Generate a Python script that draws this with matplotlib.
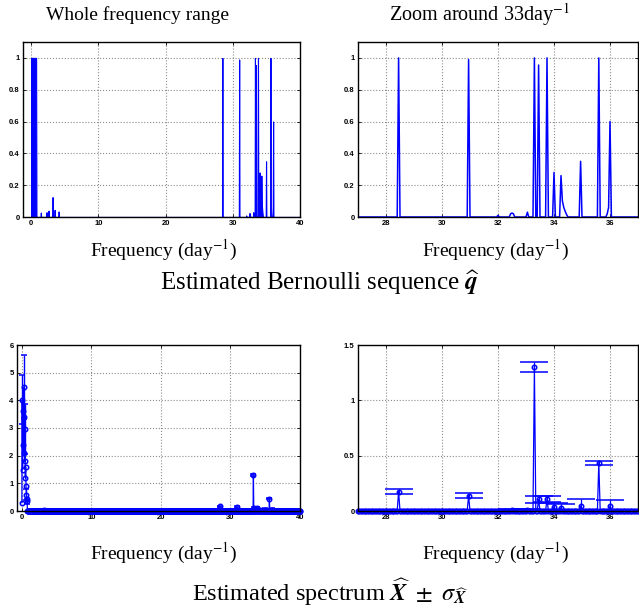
import matplotlib.pyplot as plt
import numpy as np

plt.rcParams['font.family'] = ['Liberation Sans', 'DejaVu Sans']
plt.rcParams['mathtext.fontset'] = 'stix'

# frequency grid (day^-1)
step = 0.05
freq = np.round(np.arange(0, 40 + step / 2, step), 2)

# Bernoulli sequence q-hat: non-zero entries only
q_freq = [0.0, 0.05, 0.1, 0.15, 0.2, 0.25, 0.3, 0.35, 0.4, 0.45, 0.5, 0.55, 0.6, 0.65, 0.7, 0.75,
          1.45, 2.3, 2.6, 3.2, 3.5, 4.1,
          28.45, 30.95, 32.0, 32.45, 32.5, 32.55, 33.05, 33.3, 33.45, 33.75,
          34.0, 34.25, 34.3, 34.35, 34.4, 34.45, 34.95, 35.6, 35.9, 35.95, 36.0]
q_val = [1, 1, 1, 1, 1, 1, 1, 1, 1, 1, 1, 1, 1, 1, 1, 1,
         0.028, 0.03, 0.04, 0.125, 0.045, 0.035,
         1.0, 0.99, 0.01, 0.02, 0.025, 0.02, 0.03, 1.0, 0.955, 1.0,
         0.28, 0.26, 0.1, 0.06, 0.035, 0.015, 0.35, 1.0, 0.02, 0.06, 0.6]

# Estimated spectrum X-hat (non-zero entries)
x_freq = [0.0, 0.05, 0.1, 0.15, 0.2, 0.25, 0.3, 0.35, 0.4, 0.45, 0.5, 0.55, 0.6, 0.65, 0.7, 0.75,
          1.45, 2.3, 2.6, 3.2, 3.5, 4.1,
          28.45, 30.95, 32.0, 32.5, 33.05, 33.3, 33.45, 33.75, 34.0, 34.25, 34.95, 35.6, 36.0]
x_val = [0.3, 4.02, 1.5, 3.6, 2.4, 4.47, 2.1, 3.4, 1.8, 2.96, 1.2, 1.6, 0.9, 0.59, 0.45, 0.35,
         0.01, 0.01, 0.015, 0.03, 0.015, 0.01,
         0.176, 0.14, 0.003, 0.005, 0.005, 1.30, 0.105, 0.11, 0.04, 0.03, 0.045, 0.436, 0.045]

# standard deviation, drawn as error bars
e_freq = [0.05, 0.25, 0.45, 0.65, 0.75,
          28.45, 30.95, 32.0, 32.5, 33.05, 33.3, 33.45, 33.75, 34.0, 34.25, 34.95, 35.6, 36.0]
e_val = [4.02, 4.47, 2.96, 0.59, 0.35,
         0.176, 0.14, 0.003, 0.005, 0.005, 1.30, 0.105, 0.11, 0.04, 0.03, 0.045, 0.436, 0.045]
e_sig = [0.89, 1.16, 0.9, 0.2, 0.08,
         0.02, 0.027, 0.005, 0.01, 0.01, 0.042, 0.035, 0.03, 0.035, 0.03, 0.065, 0.02, 0.055]

q = np.zeros_like(freq)
q[np.round(np.array(q_freq) / step).astype(int)] = q_val
X = np.zeros_like(freq)
X[np.round(np.array(x_freq) / step).astype(int)] = x_val

W, H = 639, 611
fig = plt.figure(figsize=(W / 100, H / 100), dpi=100)


def axes_px(x0, y0, x1, y1):
    return fig.add_axes([x0 / W, 1 - y1 / H, (x1 - x0) / W, (y1 - y0) / H])


def style(ax):
    ax.grid(True, linestyle=':', color='0.55', linewidth=0.8)
    ax.set_axisbelow(True)
    ax.tick_params(direction='in', top=True, right=True, length=2.5, width=0.6,
                   labelsize=5.5, pad=2.5)
    for lab in ax.get_xticklabels() + ax.get_yticklabels():
        lab.set_fontweight('bold')
    for s in ax.spines.values():
        s.set_linewidth(1.0)


serif = dict(family='Liberation Serif', ha='center', va='center')

# top left: whole range
ax1 = axes_px(23, 42, 300, 217)
ax1.fill_between(freq, q, color='b', linewidth=0.8)
ax1.set_xlim(-1.2, 40)
ax1.set_ylim(0, 1.1)
ax1.set_xticks([0, 10, 20, 30, 40])
ax1.set_yticks([0, 0.2, 0.4, 0.6, 0.8, 1])
ax1.set_yticklabels(['0', '0.2', '0.4', '0.6', '0.8', '1'])
style(ax1)

# top right: zoom
ax2 = axes_px(358, 42, 638, 217)
ax2.plot(freq, q, color='b', linewidth=1.1)
ax2.set_xlim(27, 37)
ax2.set_ylim(0, 1.1)
ax2.set_xticks([28, 30, 32, 34, 36])
ax2.set_yticks([0, 0.2, 0.4, 0.6, 0.8, 1])
ax2.set_yticklabels(['0', '0.2', '0.4', '0.6', '0.8', '1'])
style(ax2)

# bottom left: spectrum whole range
ax3 = axes_px(17, 345, 300, 511)
ax3.plot(freq, X, '-o', color='b', mfc='none', ms=3.2, mew=1.1, lw=0.9, clip_on=False)
ax3.errorbar(e_freq, e_val, yerr=e_sig, fmt='none', ecolor='b', elinewidth=1.0,
             capsize=2.4, capthick=1.1)
ax3.set_xlim(-0.7, 40)
ax3.set_ylim(0, 6)
ax3.set_xticks([0, 10, 20, 30, 40])
ax3.set_yticks([0, 1, 2, 3, 4, 5, 6])
style(ax3)

# bottom right: spectrum zoom
ax4 = axes_px(358, 345, 638, 511)
m = (freq >= 27) & (freq <= 37)
ax4.plot(freq[m], X[m], '-o', color='b', mfc='none', ms=3.2, mew=1.1, lw=0.9, clip_on=False)
ax4.errorbar(e_freq[5:], e_val[5:], yerr=e_sig[5:], fmt='none', ecolor='b',
             elinewidth=0.9, capsize=10, capthick=1.1)
ax4.set_xlim(27, 37)
ax4.set_ylim(0, 1.5)
ax4.set_xticks([28, 30, 32, 34, 36])
ax4.set_yticks([0, 0.5, 1, 1.5])
ax4.set_yticklabels(['0', '0.5', '1', '1.5'])
style(ax4)

# texts
fig.text(138 / W, 1 - 15 / H, 'Whole frequency range', fontsize=14, **serif)
fig.text(479 / W, 1 - 15 / H, r'Zoom around 33day$^{-1}$', fontsize=14.5, **serif)
for xc in (163, 495):
    fig.text(xc / W, 1 - 250 / H, r'Frequency (day$^{-1}$)', fontsize=14, **serif)
    fig.text(xc / W, 1 - 553 / H, r'Frequency (day$^{-1}$)', fontsize=14, **serif)
fig.text(320 / W, 1 - 283 / H, r'Estimated Bernoulli sequence $\widehat{\mathbfit{q}}$',
         fontsize=18, **serif)
fig.text(330 / W, 1 - 592 / H,
         r'Estimated spectrum $\widehat{\mathbfit{X}}\ \pm\ \sigma_{\widehat{\mathbfit{X}}}$',
         fontsize=17.5, **serif)

fig.savefig('out.png', dpi=100)
